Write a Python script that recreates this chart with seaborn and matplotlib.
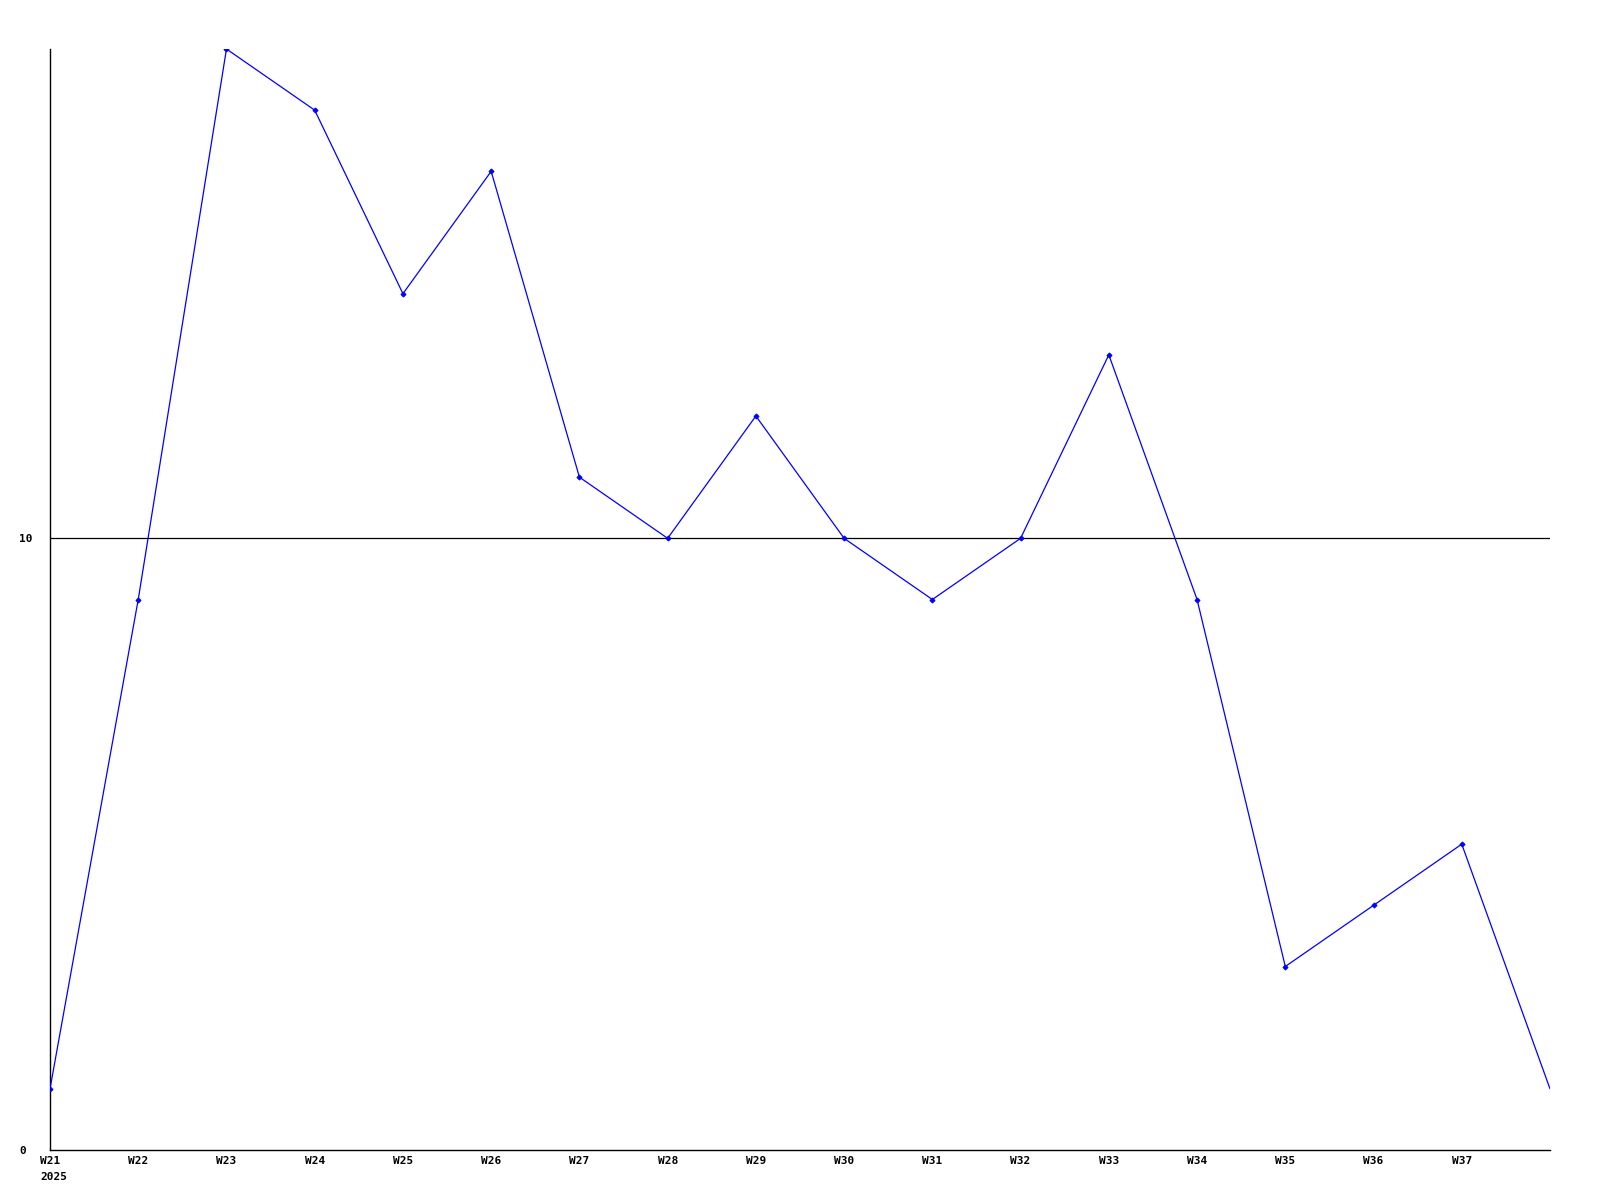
import matplotlib
matplotlib.use("Agg")
import matplotlib.pyplot as plt
import seaborn as sns
import pandas as pd

weeks = ["W21", "W22", "W23", "W24", "W25", "W26", "W27", "W28", "W29",
         "W30", "W31", "W32", "W33", "W34", "W35", "W36", "W37", "W38"]
values = [1, 9, 18, 17, 14, 16, 11, 10, 12, 10, 9, 10, 13, 9, 3, 4, 5, 1]
y_ticks = [0, 10]
year_label = "2025"

sns.set_theme(style="white")
plt.rcParams["font.family"] = ["DejaVu Sans Mono", "DejaVu Sans"]
plt.rcParams["text.color"] = "black"
plt.rcParams["xtick.color"] = "black"
plt.rcParams["ytick.color"] = "black"

df = pd.DataFrame({"idx": range(len(weeks)), "week": weeks, "value": values})

fig = plt.figure(figsize=(16, 12), dpi=100)
ax = fig.add_axes([50 / 1600, 50 / 1200, 1500 / 1600, 1101 / 1200])

ax.axhline(10, color="black", linewidth=0.9, zorder=1)
sns.lineplot(data=df, x="idx", y="value", ax=ax, color="#0000ff",
             linewidth=0.9, marker="D", markersize=2.5,
             markeredgewidth=0.8, markeredgecolor="#0000ff", zorder=3,
             markevery=list(range(len(weeks) - 1)))

ax.set_xlim(0, len(weeks) - 1)
ax.set_ylim(0, 18)
ax.set_xticks(range(len(weeks) - 1))
ax.set_xticklabels(weeks[:-1], fontsize=8, fontweight="bold", color="black")
ax.set_yticks(y_ticks)
ax.set_yticklabels([str(v) for v in y_ticks], fontsize=8, fontweight="bold",
                   ha="left", color="black")
ax.tick_params(axis="both", length=0)
ax.tick_params(axis="x", pad=4)
ax.tick_params(axis="y", pad=22.3)
ax.set_xlabel("")
ax.set_ylabel("")
for s in ["top", "right"]:
    ax.spines[s].set_visible(False)
for s in ["left", "bottom"]:
    ax.spines[s].set_color("black")
    ax.spines[s].set_linewidth(1.0)

ax.annotate(year_label, xy=(0, 0), xycoords=("data", "axes fraction"),
            xytext=(-10, -22), textcoords="offset pixels",
            ha="left", va="top", fontsize=8, fontweight="bold", color="black")

fig.savefig("out.png", dpi=100, facecolor="white")
